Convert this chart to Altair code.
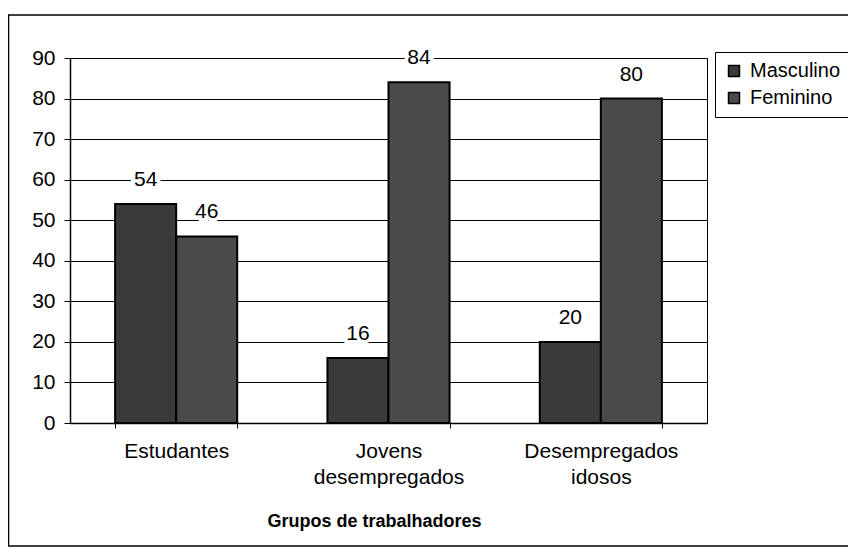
import altair as alt
import pandas as pd

categorias = ["Estudantes", "Jovens desempregados", "Desempregados idosos"]
series = ["Masculino", "Feminino"]
masculino = [54, 16, 20]
feminino = [46, 84, 80]
cores = ["#3a3a3a", "#4a4a4a"]

rows = []
for c, m, f in zip(categorias, masculino, feminino):
    rows.append({"Grupo": c, "Sexo": "Masculino", "Valor": m})
    rows.append({"Grupo": c, "Sexo": "Feminino", "Valor": f})
df = pd.DataFrame(rows)

FONT = "Liberation Sans"
FS = 21

x = alt.X(
    "Grupo:N",
    sort=categorias,
    scale=alt.Scale(paddingInner=0.425, paddingOuter=0.2125),
    axis=alt.Axis(
        title="Grupos de trabalhadores",
        labelAngle=0,
        labelExpr="split(datum.label, ' ')",
        tickBand="extent",
        tickSize=5,
        tickColor="black",
        domainColor="black",
        domainWidth=1.5,
        labelFont=FONT,
        labelFontSize=FS,
        labelColor="black",
        labelPadding=12,
        labelLineHeight=26,
        titleFont=FONT,
        titleFontSize=18,
        titleFontWeight="bold",
        titleColor="black",
        titleX=304,
        titleY=98,
        titleAlign="center",
        titleBaseline="middle",
    ),
)
y = alt.Y(
    "Valor:Q",
    scale=alt.Scale(domain=[0, 90]),
    axis=alt.Axis(
        title=None,
        values=list(range(0, 91, 10)),
        grid=True,
        gridColor="black",
        gridOpacity=1,
        gridWidth=1,
        tickSize=6,
        tickColor="black",
        domainColor="black",
        domainWidth=1.5,
        labelFont=FONT,
        labelFontSize=FS,
        labelColor="black",
        labelPadding=9,
    ),
)
xo = alt.XOffset("Sexo:N", sort=series, scale=alt.Scale(paddingInner=0, paddingOuter=0))

base = alt.Chart(df)

bars = base.mark_bar(stroke="black", strokeWidth=2).encode(
    x=x,
    y=y,
    xOffset=xo,
    color=alt.Color(
        "Sexo:N",
        sort=series,
        scale=alt.Scale(domain=series, range=cores),
        legend=alt.Legend(
            title=None,
            orient="none",
            legendX=645,
            legendY=-6,
            symbolType="square",
            symbolSize=120,
            symbolStrokeColor="black",
            symbolStrokeWidth=1.5,
            symbolOpacity=1,
            labelFont=FONT,
            labelFontSize=20,
            labelColor="black",
            labelOffset=6,
            rowPadding=7,
            padding=9,
            strokeColor="black",
            fillColor="white",
        ),
    ),
)

halo = base.mark_text(
    dy=-18, baseline="alphabetic", font=FONT, fontSize=FS,
    color="white", stroke="white", strokeWidth=7,
).encode(x=x, y=y, xOffset=xo, text="Valor:Q")

labels = base.mark_text(
    dy=-18, baseline="alphabetic", font=FONT, fontSize=FS, color="black",
).encode(x=x, y=y, xOffset=xo, text="Valor:Q")

frame = alt.Chart(pd.DataFrame({"a": [0]})).mark_rect(
    fillOpacity=0, stroke="black", strokeWidth=1.5
).encode(
    x=alt.value(-61.5), x2=alt.value(900), y=alt.value(-43), y2=alt.value(488)
)

chart = alt.layer(frame, bars, halo, labels).properties(
    width=637,
    height=365,
    padding={"left": 62, "top": 50, "right": 141, "bottom": 125},
    autosize=alt.AutoSizeParams(type="none"),
    background="white",
).configure_view(stroke="black", strokeWidth=1)

chart.save("out.html", embed_options={"renderer": "svg", "actions": False})
